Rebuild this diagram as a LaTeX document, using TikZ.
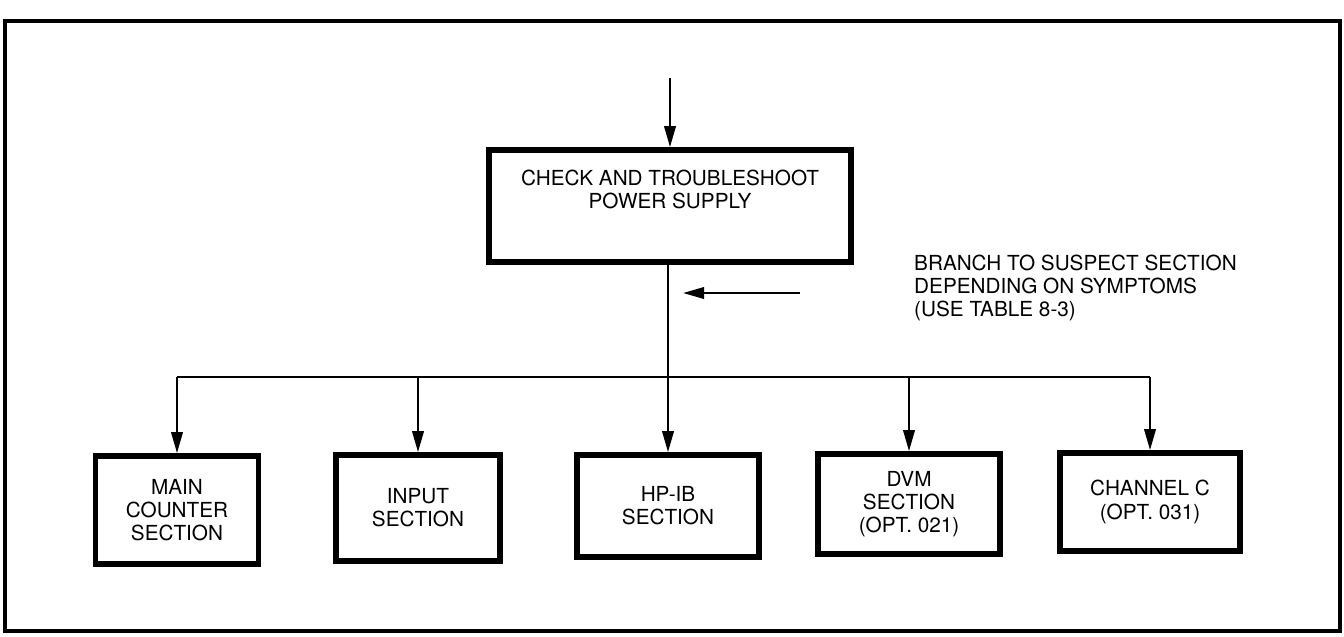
\documentclass[tikz,border=0pt]{standalone}
\usepackage{fontspec}
\setmainfont{TeX Gyre Heros}
\usetikzlibrary{arrows.meta,positioning,calc}

\begin{document}
\begin{tikzpicture}[
  x=0.02cm, y=-0.02cm,
  >={Triangle[length=12pt,width=6.5pt]},
  every node/.style={font=\fontsize{11.8}{13.2}\selectfont},
  box/.style={draw, line width=3.2pt, align=center, inner sep=0pt},
  link/.style={line width=1.4pt},
]
\useasboundingbox (0,0) rectangle (1344,636);
% frame
\draw[line width=2pt] (5,21) rectangle (1340,631);

% top step
\coordinate (entry) at (670,78);
\node[box, minimum width=7.24cm, minimum height=2.24cm] (power) at (670,206)
  {CHECK AND TROUBLESHOOT\\POWER SUPPLY\\[6pt]};
\draw[link, ->] (entry) -- (power.north);

% note
\node[anchor=west, align=left] (note) at (908,288)
  {BRANCH TO SUSPECT SECTION\\DEPENDING ON SYMPTOMS\\(USE TABLE 8-3)};
\coordinate (tail) at (800,293);
\coordinate (tip) at (683,293);
\draw[link, ->] (tail) -- (tip);

% sections
\node[box, minimum width=3.26cm, minimum height=2.16cm] (sec1) at (177,510)
  {MAIN\\COUNTER\\SECTION};
\node[box, minimum width=3.28cm, minimum height=2.12cm] (sec2) at (418,508)
  {INPUT\\SECTION};
\node[box, minimum width=3.64cm, minimum height=2.04cm] (sec3) at (668,506)
  {HP-IB\\SECTION};
\node[box, minimum width=3.64cm, minimum height=2.0cm] (sec4) at (909,504)
  {DVM\\SECTION\\(OPT. 021)};
\node[box, minimum width=3.6cm, minimum height=1.96cm] (sec5) at (1150,502)
  {CHANNEL C\\(OPT. 031)};

% branches
\coordinate (split) at (668,377);
\draw[link, ->] (power.south -| split) -- (sec3.north -| split);
\draw[link] (sec1.north |- split) -- (sec5.north |- split);
\foreach \n in {1,2,4,5}
  \draw[link, ->] (sec\n.north |- split) -- (sec\n.north);
\end{tikzpicture}
\end{document}
